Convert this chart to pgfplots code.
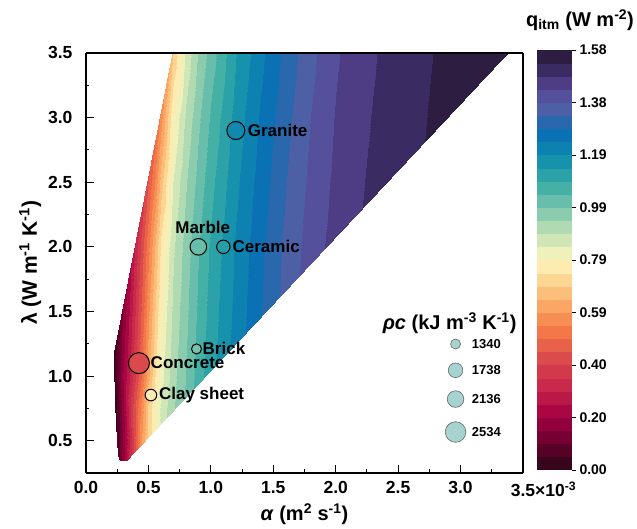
\documentclass[border=0pt]{standalone}
\usepackage{pgfplots}
\pgfplotsset{compat=1.18}
\usepackage{fontspec}
\setmainfont{Liberation Sans}
\definecolor{legfill}{RGB}{166,210,208}
\pgfplotsset{colormap={qmap}{
rgb255(0cm)=(55,5,28); rgb255(7cm)=(100,0,42); rgb255(14cm)=(140,0,58); rgb255(21cm)=(172,8,68);
rgb255(30cm)=(200,40,75); rgb255(40cm)=(218,72,75); rgb255(50cm)=(242,115,70);
rgb255(59cm)=(250,155,90); rgb255(69cm)=(253,205,135); rgb255(79cm)=(255,245,190);
rgb255(89cm)=(195,225,180); rgb255(99cm)=(125,198,172); rgb255(109cm)=(55,172,165);
rgb255(119cm)=(15,140,175); rgb255(128cm)=(10,112,180); rgb255(138cm)=(80,95,165);
rgb255(145cm)=(88,72,150); rgb255(152cm)=(62,45,105); rgb255(158cm)=(45,30,65)}}
\begin{document}
\begin{tikzpicture}
\useasboundingbox (-86pt,-56pt) rectangle (551pt,473pt);
\begin{axis}[
  at={(0pt,0pt)}, anchor=south west,
  view={0}{90},
  scale only axis, width=437pt, height=420pt,
  xmin=0, xmax=3.5, ymin=0.25, ymax=3.5,
  colormap name=qmap,
  point meta min=0, point meta max=1.58,
  xtick={0,0.5,1,1.5,2,2.5,3,3.5},
  xticklabels={0.0,0.5,1.0,1.5,2.0,2.5,3.0,{3.5\rlap{×10\textsuperscript{-3}}}},
  ytick={0.5,1,1.5,2,2.5,3,3.5},
  yticklabels={0.5,1.0,1.5,2.0,2.5,3.0,3.5},
  minor x tick num=1, minor y tick num=1,
  tick align=inside, tick pos=left,
  major tick length=7.5pt, minor tick length=3.5pt,
  tick style={black, line width=1pt},
  axis line style={black, line width=1.2pt},
  ticklabel style={font=\fontsize{17.5}{17.5}\selectfont\bfseries},
  xticklabel style={yshift=-5pt},
  yticklabel style={xshift=-10pt},
  xlabel={\textit{α} (m\textsuperscript{2} s\textsuperscript{-1})},
  ylabel={λ (W m\textsuperscript{-1} K\textsuperscript{-1})},
  xlabel style={font=\fontsize{20}{20}\selectfont\bfseries, yshift=0pt},
  ylabel style={font=\fontsize{21}{21}\selectfont\bfseries, yshift=0pt},
  colorbar,
  colorbar shift/.style={xshift=14pt, yshift=3pt},
  colorbar style={
    at={(parent axis.north east)}, anchor=north west,
    width=35pt, height=420pt,
    ytick={0,0.1975,0.395,0.5925,0.79,0.9875,1.185,1.3825,1.58},
    yticklabels={0.00,0.20,0.40,0.59,0.79,0.99,1.19,1.38,1.58},
    yticklabel style={font=\fontsize{14}{14}\selectfont\bfseries},
    axis line style={draw=none},
    tick align=outside, ytick pos=right,
    major tick length=4pt,
    tick style={black, line width=0.8pt},
  },
]
\begin{scope}
\clip (axis cs:0.27,0.345) -- (axis cs:0.325,0.345) -- (axis cs:3.38,3.5) -- (axis cs:0.69,3.5) -- (axis cs:0.22,1.17) -- (axis cs:0.225,1.0) -- (axis cs:0.235,0.7) -- (axis cs:0.248,0.47) -- (axis cs:0.258,0.38) -- cycle;
\addplot3[contour filled={number=32}, mesh/rows=10, mesh/cols=23] table[x=a, y=l, z=q] {
a l q
0.20 0.30 0.00
0.25 0.30 0.06
0.30 0.30 0.18
0.35 0.30 0.33
0.40 0.30 0.47
0.45 0.30 0.60
0.50 0.30 0.70
0.55 0.30 0.78
0.60 0.30 0.85
0.70 0.30 0.94
0.80 0.30 1.01
0.90 0.30 1.07
1.00 0.30 1.12
1.20 0.30 1.21
1.40 0.30 1.29
1.60 0.30 1.36
1.80 0.30 1.42
2.00 0.30 1.46
2.20 0.30 1.49
2.50 0.30 1.52
2.80 0.30 1.55
3.10 0.30 1.57
3.50 0.30 1.58

0.20 0.50 0.00
0.25 0.50 0.05
0.30 0.50 0.16
0.35 0.50 0.31
0.40 0.50 0.46
0.45 0.50 0.60
0.50 0.50 0.70
0.55 0.50 0.78
0.60 0.50 0.85
0.70 0.50 0.94
0.80 0.50 1.01
0.90 0.50 1.07
1.00 0.50 1.12
1.20 0.50 1.21
1.40 0.50 1.29
1.60 0.50 1.36
1.80 0.50 1.42
2.00 0.50 1.46
2.20 0.50 1.49
2.50 0.50 1.52
2.80 0.50 1.55
3.10 0.50 1.57
3.50 0.50 1.58

0.20 0.75 0.00
0.25 0.75 0.05
0.30 0.75 0.18
0.35 0.75 0.34
0.40 0.75 0.46
0.45 0.75 0.57
0.50 0.75 0.70
0.55 0.75 0.79
0.60 0.75 0.85
0.70 0.75 0.93
0.80 0.75 1.00
0.90 0.75 1.07
1.00 0.75 1.12
1.20 0.75 1.21
1.40 0.75 1.29
1.60 0.75 1.36
1.80 0.75 1.42
2.00 0.75 1.46
2.20 0.75 1.49
2.50 0.75 1.52
2.80 0.75 1.55
3.10 0.75 1.57
3.50 0.75 1.58

0.20 1.00 0.00
0.25 1.00 0.08
0.30 1.00 0.20
0.35 1.00 0.30
0.40 1.00 0.40
0.45 1.00 0.50
0.50 1.00 0.62
0.55 1.00 0.74
0.60 1.00 0.82
0.70 1.00 0.92
0.80 1.00 0.99
0.90 1.00 1.06
1.00 1.00 1.12
1.20 1.00 1.21
1.40 1.00 1.29
1.60 1.00 1.36
1.80 1.00 1.42
2.00 1.00 1.46
2.20 1.00 1.49
2.50 1.00 1.52
2.80 1.00 1.55
3.10 1.00 1.57
3.50 1.00 1.58

0.20 1.25 0.00
0.25 1.25 0.064
0.30 1.25 0.176
0.35 1.25 0.28
0.40 1.25 0.38
0.45 1.25 0.48
0.50 1.25 0.596
0.55 1.25 0.716
0.60 1.25 0.804
0.70 1.25 0.91
0.80 1.25 0.983
0.90 1.25 1.053
1.00 1.25 1.114
1.20 1.25 1.206
1.40 1.25 1.286
1.60 1.25 1.357
1.80 1.25 1.417
2.00 1.25 1.458
2.20 1.25 1.489
2.50 1.25 1.519
2.80 1.25 1.549
3.10 1.25 1.57
3.50 1.25 1.58

0.20 1.50 0.00
0.25 1.50 0.048
0.30 1.50 0.152
0.35 1.50 0.26
0.40 1.50 0.36
0.45 1.50 0.46
0.50 1.50 0.572
0.55 1.50 0.692
0.60 1.50 0.788
0.70 1.50 0.90
0.80 1.50 0.976
0.90 1.50 1.046
1.00 1.50 1.108
1.20 1.50 1.201
1.40 1.50 1.282
1.60 1.50 1.353
1.80 1.50 1.414
2.00 1.50 1.456
2.20 1.50 1.487
2.50 1.50 1.518
2.80 1.50 1.548
3.10 1.50 1.569
3.50 1.50 1.58

0.20 2.00 0.00
0.25 2.00 0.016
0.30 2.00 0.104
0.35 2.00 0.22
0.40 2.00 0.32
0.45 2.00 0.42
0.50 2.00 0.524
0.55 2.00 0.644
0.60 2.00 0.756
0.70 2.00 0.88
0.80 2.00 0.962
0.90 2.00 1.032
1.00 2.00 1.096
1.20 2.00 1.192
1.40 2.00 1.274
1.60 2.00 1.346
1.80 2.00 1.408
2.00 2.00 1.452
2.20 2.00 1.484
2.50 2.00 1.516
2.80 2.00 1.546
3.10 2.00 1.567
3.50 2.00 1.58

0.20 2.50 0.00
0.25 2.50 0.00
0.30 2.50 0.032
0.35 2.50 0.128
0.40 2.50 0.24
0.45 2.50 0.34
0.50 2.50 0.44
0.55 2.50 0.548
0.60 2.50 0.668
0.70 2.50 0.84
0.80 2.50 0.934
0.90 2.50 1.004
1.00 2.50 1.072
1.20 2.50 1.174
1.40 2.50 1.258
1.60 2.50 1.332
1.80 2.50 1.396
2.00 2.50 1.444
2.20 2.50 1.478
2.50 2.50 1.512
2.80 2.50 1.542
3.10 2.50 1.565
3.50 2.50 1.58

0.20 3.00 0.00
0.25 3.00 0.00
0.30 3.00 0.00
0.35 3.00 0.048
0.40 3.00 0.152
0.45 3.00 0.26
0.50 3.00 0.36
0.55 3.00 0.46
0.60 3.00 0.572
0.70 3.00 0.788
0.80 3.00 0.90
0.90 3.00 0.976
1.00 3.00 1.046
1.20 3.00 1.156
1.40 3.00 1.242
1.60 3.00 1.318
1.80 3.00 1.384
2.00 3.00 1.436
2.20 3.00 1.472
2.50 3.00 1.508
2.80 3.00 1.538
3.10 3.00 1.563
3.50 3.00 1.58

0.20 3.50 0.00
0.25 3.50 0.00
0.30 3.50 0.00
0.35 3.50 0.00
0.40 3.50 0.048
0.45 3.50 0.152
0.50 3.50 0.26
0.55 3.50 0.36
0.60 3.50 0.46
0.70 3.50 0.692
0.80 3.50 0.85
0.90 3.50 0.941
1.00 3.50 1.011
1.20 3.50 1.134
1.40 3.50 1.222
1.60 3.50 1.30
1.80 3.50 1.369
2.00 3.50 1.426
2.20 3.50 1.465
2.50 3.50 1.503
2.80 3.50 1.533
3.10 3.50 1.56
3.50 3.50 1.58
};
\end{scope}
% materials
\addplot3[scatter, only marks, mark=*, point meta=explicit,
  scatter/use mapped color={draw=black, fill=mapped color},
  visualization depends on={\thisrow{r}\as\rr},
  scatter/@pre marker code/.append style={/tikz/mark size=\rr},
  mark options={line width=1pt}]
table[x=a, y=l, z=z, meta=q] {
a l z q r
1.20 2.90 2 1.20 9
0.90 2.00 2 1.02 8.3
1.10 2.00 2 1.13 6.7
0.424 1.10 2 0.40 10.5
0.885 1.21 2 1.00 5
0.52 0.853 2 0.78 5.8
};
% size legend
\addplot3[scatter, only marks, mark=*, point meta=explicit,
  scatter/use mapped color={draw=black!60, fill=legfill},
  visualization depends on={\thisrow{r}\as\rr},
  scatter/@pre marker code/.append style={/tikz/mark size=\rr},
  mark options={line width=0.6pt}]
table[x=a, y=l, z=z, meta=q] {
a l z q r
2.96 1.248 2 0 5
2.96 1.045 2 0 7.3
2.96 0.822 2 0 8.3
2.96 0.567 2 0 10.3
};
\begin{scope}[font=\fontsize{17}{17}\selectfont\bfseries]
\node[anchor=west, inner sep=0pt] at (axis cs:1.295,2.90) {Granite};
\node[inner sep=0pt] at (axis cs:0.935,2.15) {Marble};
\node[anchor=west, inner sep=0pt] at (axis cs:1.173,2.00) {Ceramic};
\node[anchor=west, inner sep=0pt] at (axis cs:0.517,1.10) {Concrete};
\node[anchor=west, inner sep=0pt] at (axis cs:0.933,1.215) {Brick};
\node[anchor=west, inner sep=0pt] at (axis cs:0.584,0.853) {Clay sheet};
\end{scope}
\node[anchor=west, inner sep=0pt, font=\fontsize{20}{20}\selectfont\bfseries] at (axis cs:2.376,1.41) {\textit{ρc} (kJ m\textsuperscript{-3} K\textsuperscript{-1})};
\begin{scope}[font=\fontsize{13}{13}\selectfont\bfseries]
\node[anchor=west, inner sep=0pt] at (axis cs:3.09,1.248) {1340};
\node[anchor=west, inner sep=0pt] at (axis cs:3.09,1.045) {1738};
\node[anchor=west, inner sep=0pt] at (axis cs:3.09,0.822) {2136};
\node[anchor=west, inner sep=0pt] at (axis cs:3.09,0.567) {2534};
\end{scope}
\end{axis}
\node[font=\fontsize{20}{20}\selectfont\bfseries] at (494pt,453pt) {q\textsubscript{itm} (W m\textsuperscript{-2})};
\end{tikzpicture}
\end{document}
